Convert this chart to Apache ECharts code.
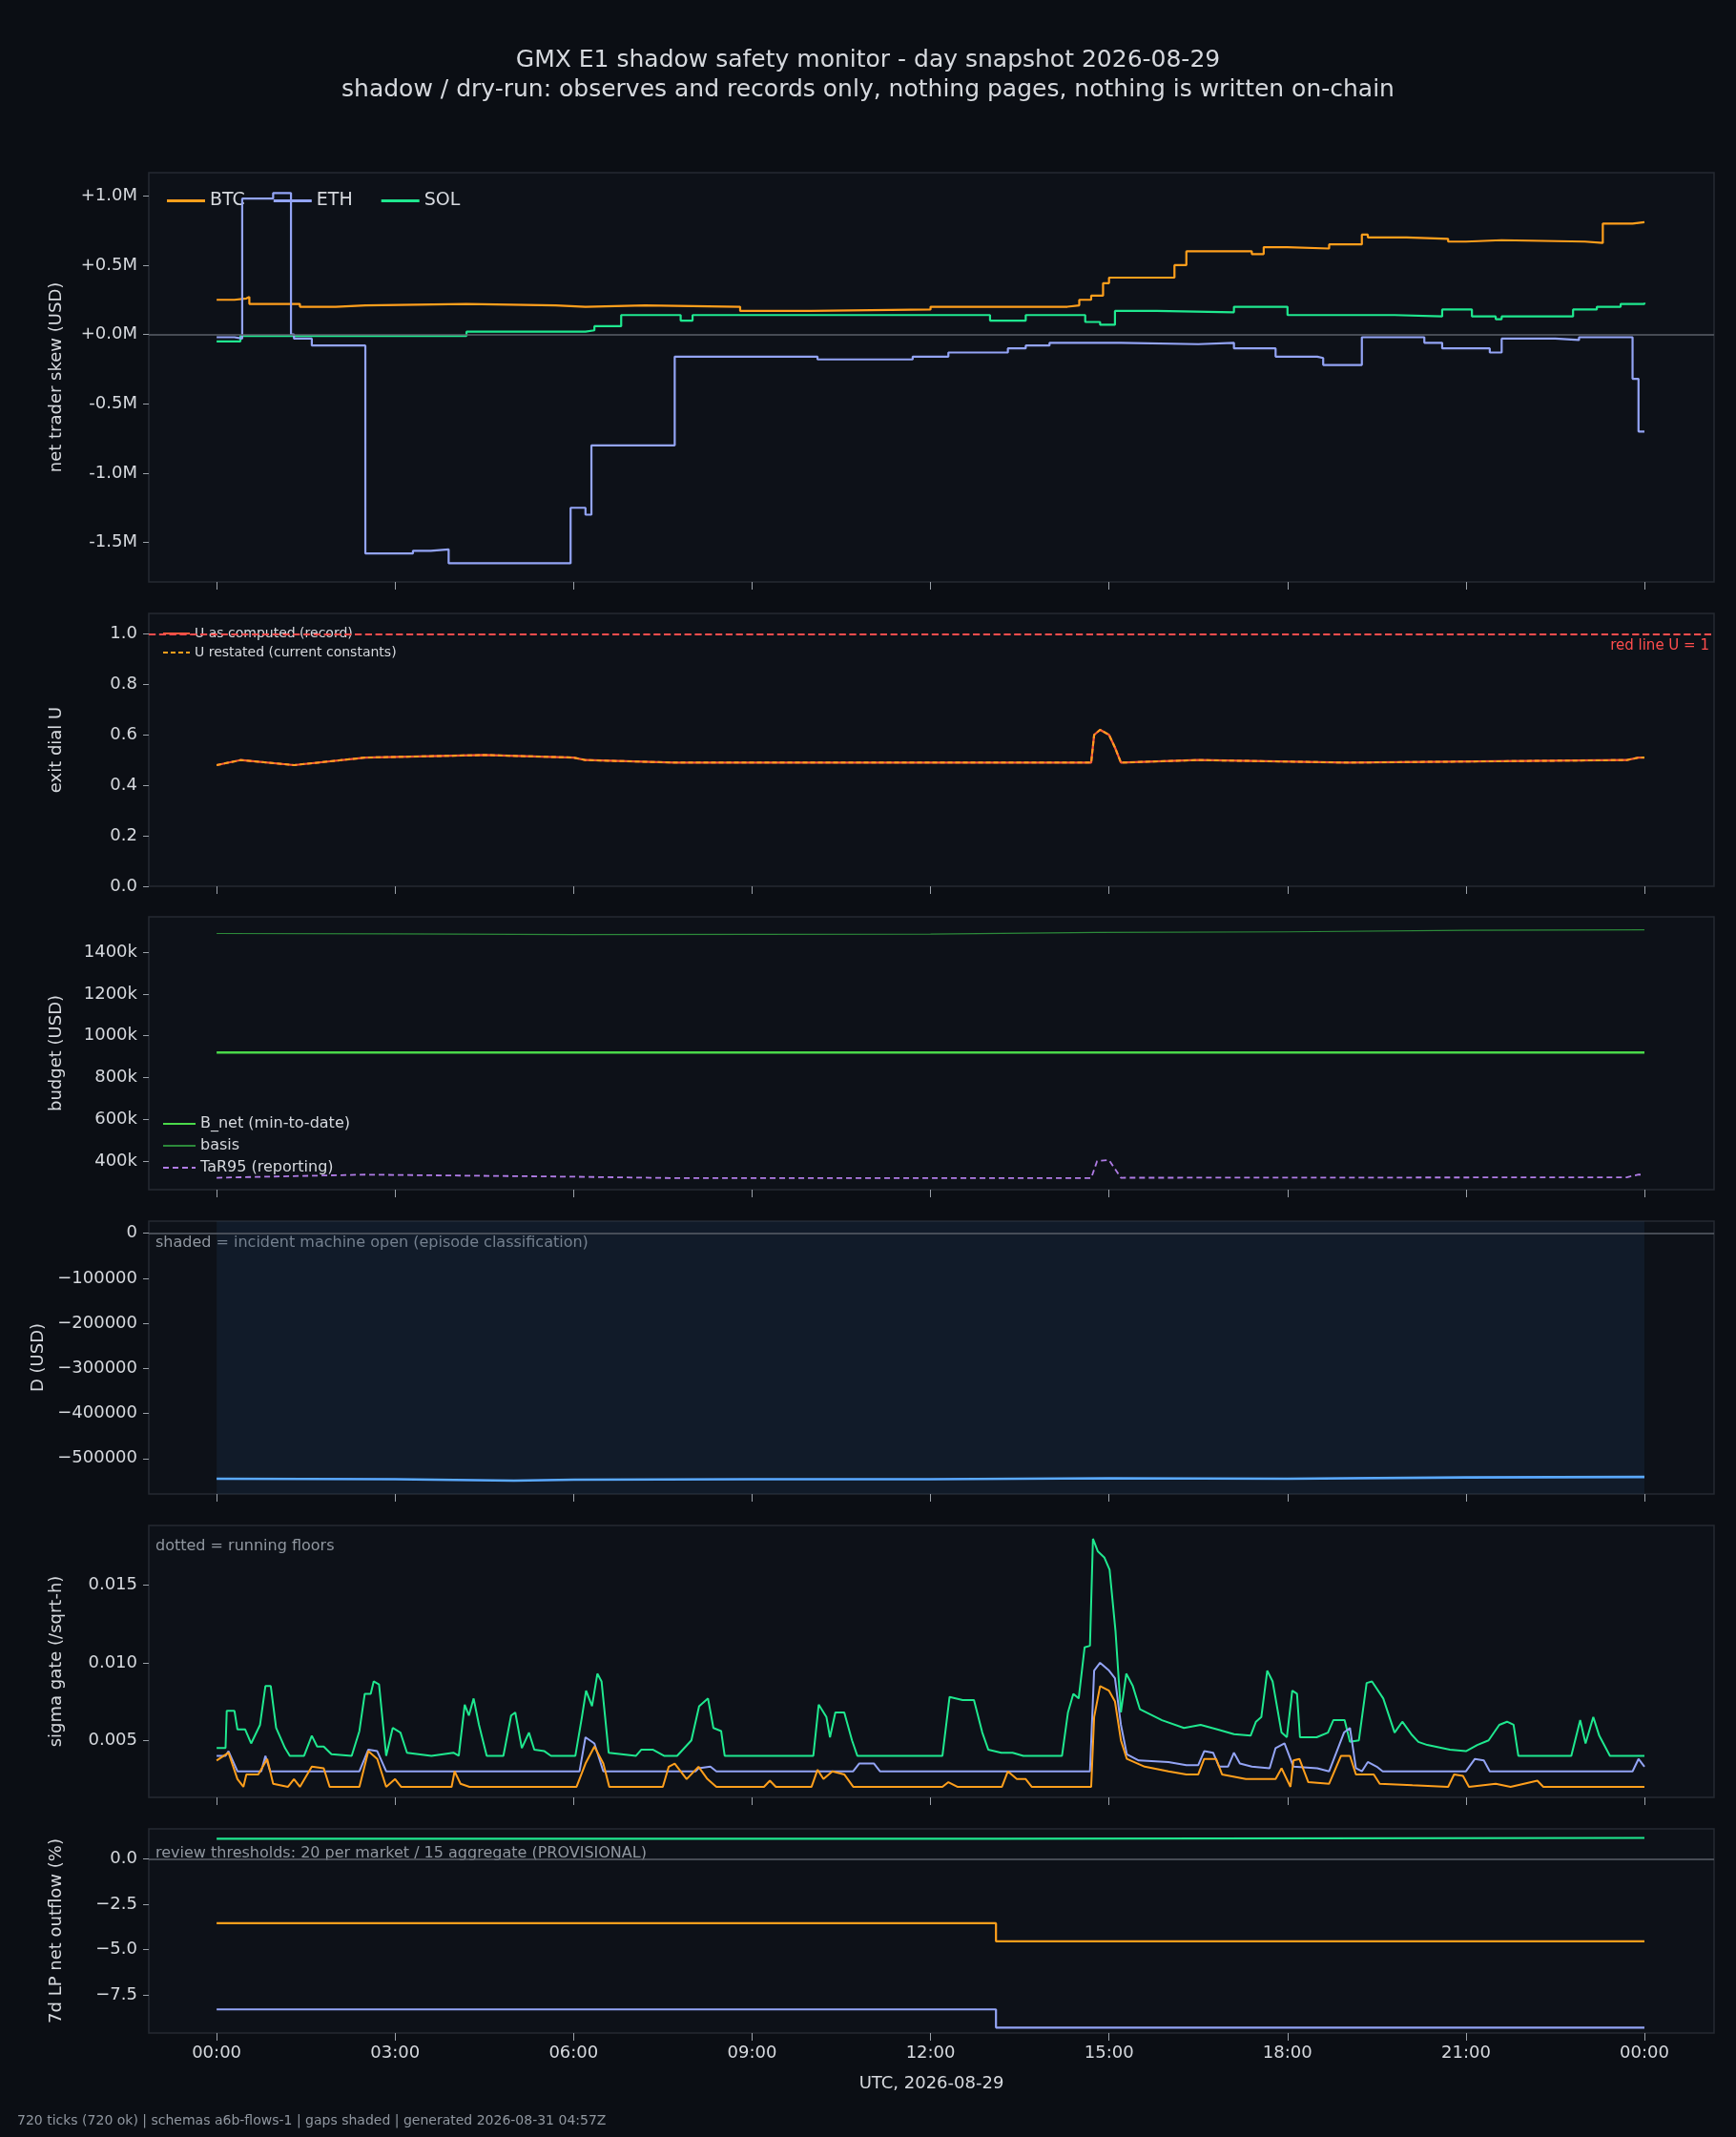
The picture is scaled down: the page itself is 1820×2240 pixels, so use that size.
<!DOCTYPE html>
<html><head><meta charset="utf-8">
<script src="https://cdn.jsdelivr.net/npm/echarts@6/dist/echarts.min.js"></script>
<style>html,body{margin:0;background:#0b0e14}#c{width:1820px;height:2240px}</style>
</head><body><div id="c"></div>
<script>
const hourTicks = [0, 3, 6, 9, 12, 15, 18, 21, 24];
const hourLabels = ['00:00', '03:00', '06:00', '09:00', '12:00', '15:00', '18:00', '21:00', '00:00'];

// panel 1: net trader skew, millions USD (step, value holds from hour)
const skewBTC = [[0,.25],[.3,.26],[.5,.27],[.55,.22],[1.4,.2],[2.0,.21],[2.5,.22],[4.2,.21],[5.7,.2],[6.2,.21],[7.2,.2],[8.8,.17],[10,.18],[12,.2],[14.3,.21],[14.5,.25],[14.7,.28],[14.9,.37],[15.0,.41],[16.1,.5],[16.3,.6],[17.4,.58],[17.6,.63],[18.0,.62],[18.7,.65],[19.25,.72],[19.35,.7],[20.0,.69],[20.7,.67],[21.0,.68],[21.6,.67],[23.0,.66],[23.3,.8],[23.8,.81],[24,.81]];
const skewETH = [[0,-.02],[.3,-.03],[.43,.98],[.9,.98],[.95,1.02],[1.25,0],[1.3,-.03],[1.6,-.08],[2.5,-1.58],[3.3,-1.56],[3.6,-1.55],[3.9,-1.65],[5.95,-1.25],[6.2,-1.3],[6.3,-.8],[7.7,-.16],[10.1,-.18],[11.7,-.16],[12.3,-.13],[13.3,-.1],[13.6,-.08],[14.0,-.06],[15.2,-.07],[16.5,-.06],[17.1,-.1],[17.8,-.16],[18.5,-.17],[18.6,-.22],[19.25,-.02],[20.3,-.06],[20.6,-.1],[21.4,-.13],[21.6,-.03],[22.5,-.04],[22.9,-.02],[23.8,-.32],[23.9,-.7],[24,-.7]];
const skewSOL = [[0,-.05],[.4,-.01],[4.2,.02],[6.2,.03],[6.35,.06],[6.8,.14],[7.8,.1],[8.0,.14],[13.0,.1],[13.6,.14],[14.6,.09],[14.85,.07],[15.1,.17],[15.8,.16],[17.1,.2],[18.0,.14],[19.8,.13],[20.6,.18],[21.1,.13],[21.5,.11],[21.6,.13],[22.8,.18],[23.2,.2],[23.6,.22],[24,.23]];
const skewTicks = [1.0, 0.5, 0.0, -0.5, -1.0, -1.5];

// panel 2: exit dial U
const dialU = [[0,.48],[.4,.5],[1.3,.48],[2.5,.51],[4.5,.52],[6.0,.51],[6.2,.5],[7.7,.49],[14.7,.49],[14.75,.6],[14.85,.62],[15.0,.6],[15.1,.55],[15.2,.49],[16.5,.5],[19.0,.49],[23.7,.5],[23.9,.51],[24,.51]];
const redLineU = 1;

// panel 3: budget, thousands USD
const budgetBnet = [[0,920],[24,920]];
const budgetBasis = [[0,1490],[3,1488],[6,1485],[9,1486],[12,1487],[14.8,1495],[18,1498],[21,1505],[24,1508]];
const budgetTaR95 = [[0,320],[2.5,335],[6.0,325],[7.8,318],[14.7,318],[14.8,400],[15.0,405],[15.2,320],[23.7,322],[23.9,335],[24,335]];
const budgetTicks = [1400, 1200, 1000, 800, 600, 400];

// panel 4: D (USD)
const dUSD = [[0,-545000],[3,-546000],[5,-549000],[6,-547000],[9,-546000],[12,-546000],[15,-544000],[18,-545000],[21,-542000],[24,-541000]];
const dTicks = [0, -100000, -200000, -300000, -400000, -500000];
const incidentOpen = [0, 24];

// panel 5: sigma gate (/sqrt-h)
const sigmaSOL = [[0,.0045],[.15,.0045],[.17,.0069],[.3,.0069],[.35,.0057],[.48,.0057],[.58,.0048],[.73,.006],[.82,.0085],[.91,.0085],[1.0,.0058],[1.15,.0045],[1.23,.004],[1.47,.004],[1.6,.0053],[1.69,.0046],[1.8,.0046],[1.93,.0041],[2.27,.004],[2.4,.0056],[2.49,.008],[2.59,.008],[2.64,.0088],[2.73,.0086],[2.85,.004],[2.96,.0058],[3.09,.0055],[3.2,.0042],[3.61,.004],[3.98,.0042],[4.07,.004],[4.17,.0073],[4.24,.0066],[4.32,.0077],[4.41,.006],[4.54,.004],[4.82,.004],[4.95,.0066],[5.02,.0068],[5.13,.0045],[5.25,.0055],[5.34,.0044],[5.51,.0043],[5.62,.004],[6.03,.004],[6.14,.0065],[6.21,.0082],[6.31,.0072],[6.4,.0093],[6.47,.0088],[6.59,.0042],[7.05,.004],[7.14,.0044],[7.33,.0044],[7.52,.004],[7.74,.004],[7.98,.005],[8.11,.0072],[8.26,.0077],[8.35,.0058],[8.48,.0056],[8.54,.004],[10.03,.004],[10.12,.0073],[10.25,.0065],[10.31,.0052],[10.4,.0068],[10.55,.0068],[10.68,.005],[10.77,.004],[12.2,.004],[12.32,.0078],[12.54,.0076],[12.73,.0076],[12.87,.0055],[12.97,.0044],[13.19,.0042],[13.38,.0042],[13.56,.004],[14.21,.004],[14.31,.0068],[14.4,.008],[14.49,.0077],[14.59,.011],[14.68,.0111],[14.73,.018],[14.81,.0172],[14.92,.0168],[15.01,.016],[15.11,.012],[15.2,.0068],[15.29,.0093],[15.4,.0085],[15.52,.007],[15.89,.0063],[16.26,.0058],[16.54,.006],[16.82,.0057],[17.1,.0054],[17.38,.0053],[17.47,.0062],[17.56,.0065],[17.66,.0095],[17.75,.0088],[17.9,.0055],[17.99,.0052],[18.08,.0082],[18.16,.008],[18.21,.0052],[18.49,.0052],[18.68,.0055],[18.77,.0063],[18.96,.0063],[19.05,.0049],[19.2,.005],[19.33,.0087],[19.42,.0088],[19.61,.0077],[19.8,.0055],[19.93,.0062],[20.08,.0054],[20.2,.0049],[20.35,.0047],[20.73,.0044],[21.0,.0043],[21.19,.0047],[21.38,.005],[21.56,.006],[21.69,.0062],[21.8,.006],[21.88,.004],[22.77,.004],[22.92,.0063],[23.01,.0048],[23.14,.0065],[23.24,.0053],[23.42,.004],[24,.004]];
const sigmaETH = [[0,.004],[.15,.004],[.2,.0043],[.35,.003],[.75,.003],[.82,.004],[.9,.003],[2.4,.003],[2.55,.0044],[2.7,.0043],[2.85,.003],[6.1,.003],[6.2,.0052],[6.35,.0048],[6.5,.003],[8.05,.003],[8.1,.0032],[8.3,.0033],[8.4,.003],[10.7,.003],[10.8,.0035],[11.05,.0035],[11.15,.003],[14.68,.003],[14.75,.0095],[14.85,.01],[15.0,.0095],[15.1,.009],[15.2,.006],[15.3,.0041],[15.5,.0037],[16.0,.0036],[16.3,.0034],[16.5,.0034],[16.6,.0043],[16.75,.0042],[16.85,.0033],[17.0,.0033],[17.1,.0042],[17.2,.0035],[17.4,.0033],[17.7,.0032],[17.8,.0045],[17.95,.0048],[18.1,.0033],[18.5,.0032],[18.7,.003],[18.95,.0055],[19.05,.0058],[19.15,.0032],[19.25,.003],[19.35,.0036],[19.5,.0033],[19.6,.003],[21.0,.003],[21.15,.0038],[21.3,.0037],[21.4,.003],[23.8,.003],[23.9,.0038],[24,.0033]];
const sigmaBTC = [[0,.0037],[.2,.0042],[.35,.0025],[.45,.002],[.5,.0028],[.7,.0028],[.85,.0038],[.95,.0022],[1.2,.002],[1.3,.0025],[1.4,.002],[1.6,.0033],[1.8,.0032],[1.9,.002],[2.4,.002],[2.55,.0043],[2.7,.0038],[2.85,.002],[3.0,.0025],[3.1,.002],[3.95,.002],[4.0,.003],[4.1,.0022],[4.25,.002],[6.05,.002],[6.2,.0035],[6.35,.0046],[6.5,.0035],[6.6,.002],[7.5,.002],[7.6,.0033],[7.7,.0035],[7.9,.0025],[8.1,.0033],[8.25,.0025],[8.4,.002],[9.2,.002],[9.3,.0024],[9.4,.002],[10.0,.002],[10.1,.0031],[10.2,.0025],[10.35,.003],[10.55,.0028],[10.7,.002],[12.2,.002],[12.3,.0023],[12.45,.002],[13.2,.002],[13.3,.003],[13.45,.0025],[13.6,.0025],[13.7,.002],[14.7,.002],[14.75,.0065],[14.85,.0085],[15.0,.0082],[15.1,.0075],[15.2,.005],[15.3,.0038],[15.6,.0033],[16.0,.003],[16.3,.0028],[16.5,.0028],[16.6,.0038],[16.8,.0038],[16.9,.0028],[17.3,.0025],[17.8,.0025],[17.9,.0032],[18.05,.002],[18.1,.0037],[18.2,.0038],[18.35,.0023],[18.7,.0022],[18.9,.004],[19.05,.004],[19.15,.0028],[19.45,.0028],[19.55,.0022],[20.1,.0021],[20.7,.002],[20.8,.0028],[20.95,.0027],[21.05,.002],[21.5,.0022],[21.75,.002],[22.2,.0024],[22.3,.002],[24,.002]];
const sigmaFloors = {SOL: 0.004, ETH: 0.003, BTC: 0.002};
const sigmaTicks = [0.015, 0.010, 0.005];

// panel 6: 7d LP net outflow (%)
const lpSOL = [[0,1.1],[13.1,1.15],[24,1.15]];
const lpBTC = [[0,-3.55],[13.1,-4.55],[24,-4.55]];
const lpETH = [[0,-8.3],[13.1,-9.3],[24,-9.3]];
const lpTicks = [0.0, -2.5, -5.0, -7.5];

const C_BTC = '#ff9f1c', C_ETH = '#93a4f5', C_SOL = '#1fe88f';
const TXT = '#d6d9de';
const FONT = 'DejaVu Sans';

const panels = [
  {top: 181, h: 429, min: -1.785, max: 1.167, name: 'net trader skew (USD)', ticks: skewTicks, fmt: v => (v >= 0 ? '+' : '') + v.toFixed(1) + 'M'},
  {top: 643, h: 286, min: 0, max: 1.081, name: 'exit dial U', ticks: [0, .2, .4, .6, .8, 1.0], fmt: v => v.toFixed(1)},
  {top: 961, h: 286, min: 263, max: 1570, name: 'budget (USD)', ticks: budgetTicks, fmt: v => v + 'k'},
  {top: 1280, h: 286, min: -578800, max: 27000, name: 'D (USD)', ticks: dTicks, fmt: v => v < 0 ? '\u2212' + (-v) : '' + v},
  {top: 1599, h: 285, min: 0.00132, max: 0.01886, name: 'sigma gate (/sqrt-h)', ticks: sigmaTicks, fmt: v => v.toFixed(3)},
  {top: 1917, h: 214, min: -9.6, max: 1.65, name: '7d LP net outflow (%)', ticks: lpTicks, fmt: v => v < 0 ? '\u2212' + (-v).toFixed(1) : v.toFixed(1)}
];

const grid = panels.map(p => ({left: 156, right: 23, top: p.top, height: p.h, show: true,
  backgroundColor: '#0d1118', borderColor: '#262a32', borderWidth: 1.5}));

const xAxis = panels.map((p, i) => ({type: 'value', gridIndex: i, min: -1.14, max: 25.17,
  name: i === 5 ? 'UTC, 2026-08-29' : '', nameLocation: 'middle', nameGap: 44,
  nameTextStyle: {color: TXT, fontSize: 18, fontFamily: FONT},
  axisLine: {show: false, onZero: false}, splitLine: {show: false},
  axisTick: {show: true, length: 8, lineStyle: {color: '#9aa0a8'}, customValues: hourTicks},
  axisLabel: {show: i === 5, color: TXT, fontSize: 18, fontFamily: FONT, margin: 12,
    customValues: hourTicks, formatter: v => hourLabels[hourTicks.indexOf(v)]}}));

const yAxis = panels.map((p, i) => ({type: 'value', gridIndex: i, min: p.min, max: p.max,
  name: p.name, nameLocation: 'middle', nameGap: i === 3 ? 100 : 88,
  nameTextStyle: {color: TXT, fontSize: 18, fontFamily: FONT},
  axisLine: {show: false, onZero: false}, splitLine: {show: false},
  axisTick: {show: true, length: 6, lineStyle: {color: '#9aa0a8'}, customValues: p.ticks},
  axisLabel: {color: TXT, fontSize: 18, fontFamily: FONT, margin: 12, customValues: p.ticks, formatter: p.fmt}}));

function line(name, data, i, color, extra) {
  return Object.assign({name: name, type: 'line', xAxisIndex: i, yAxisIndex: i, data: data,
    showSymbol: false, symbol: 'none', lineStyle: {color: color, width: 2.2}, itemStyle: {color: color}}, extra || {});
}
function zeroLine() {
  return {silent: true, symbol: 'none', label: {show: false}, lineStyle: {color: '#5a5f68', type: 'solid', width: 1.5}, data: [{yAxis: 0}]};
}
function floorLine(v, c) {
  return {silent: true, symbol: 'none', label: {show: false}, lineStyle: {color: c, type: 'dotted', width: 1.3}, data: [{yAxis: v}]};
}

const series = [
  line('BTC', skewBTC, 0, C_BTC, {step: 'end', markLine: zeroLine(), z: 3}),
  line('ETH', skewETH, 0, C_ETH, {step: 'end', z: 4}),
  line('SOL', skewSOL, 0, C_SOL, {step: 'end', z: 3}),

  line('U as computed (record)', dialU, 1, '#ff5a3c', {lineStyle: {color: '#ff5a3c', width: 2.2},
    markLine: {silent: true, symbol: 'none', lineStyle: {color: '#ff4d4d', type: 'dashed', width: 1.8},
      label: {show: true, position: 'insideEndBottom', formatter: 'red line U = 1', color: '#ff4d4d', fontSize: 15, fontFamily: FONT},
      data: [{yAxis: redLineU}]}}),
  line('U restated (current constants)', dialU, 1, C_BTC, {lineStyle: {color: C_BTC, width: 2, type: [5, 3]}}),

  line('B_net (min-to-date)', budgetBnet, 2, '#4ad94a', {lineStyle: {color: '#4ad94a', width: 2.6}}),
  line('basis', budgetBasis, 2, '#2c8a3a', {lineStyle: {color: '#2c8a3a', width: 1.2}}),
  line('TaR95 (reporting)', budgetTaR95, 2, '#b07ce6', {lineStyle: {color: '#b07ce6', width: 1.8, type: [6, 4]}}),

  line('D', dUSD, 3, '#5aa9ff', {lineStyle: {color: '#5aa9ff', width: 2.6}, markLine: zeroLine(),
    markArea: {silent: true, itemStyle: {color: 'rgba(30,60,90,0.25)'}, data: [[{xAxis: incidentOpen[0], yAxis: 27000}, {xAxis: incidentOpen[1], yAxis: -578800}]]}}),

  line('sigma SOL', sigmaSOL, 4, C_SOL, {lineStyle: {color: C_SOL, width: 2}, markLine: floorLine(sigmaFloors.SOL, C_SOL)}),
  line('sigma ETH', sigmaETH, 4, C_ETH, {lineStyle: {color: C_ETH, width: 2}, markLine: floorLine(sigmaFloors.ETH, C_ETH)}),
  line('sigma BTC', sigmaBTC, 4, C_BTC, {lineStyle: {color: C_BTC, width: 2}, markLine: floorLine(sigmaFloors.BTC, C_BTC)}),

  line('lp SOL', lpSOL, 5, C_SOL, {step: 'end', markLine: zeroLine()}),
  line('lp BTC', lpBTC, 5, C_BTC, {step: 'end'}),
  line('lp ETH', lpETH, 5, C_ETH, {step: 'end'})
];

function note(text, top) {
  return {type: 'text', left: 163, top: top, style: {text: text, fill: '#9097a0', fontSize: 16, fontFamily: FONT}};
}

const option = {
  backgroundColor: '#0b0e14',
  animation: false,
  title: {text: 'GMX E1 shadow safety monitor - day snapshot 2026-08-29\nshadow / dry-run: observes and records only, nothing pages, nothing is written on-chain',
    left: 'center', top: 43, textStyle: {color: TXT, fontSize: 25, fontWeight: 'normal', fontFamily: FONT, lineHeight: 31}},
  legend: [
    {data: ['BTC', 'ETH', 'SOL'], left: 170, top: 196, itemWidth: 40, itemHeight: 3, itemGap: 30, icon: 'rect',
      textStyle: {color: TXT, fontSize: 19, fontFamily: FONT}},
    {data: ['U as computed (record)', 'U restated (current constants)'], orient: 'vertical', left: 165, top: 652, itemWidth: 28, itemGap: 6,
      itemStyle: {opacity: 0}, textStyle: {color: TXT, fontSize: 14, fontFamily: FONT}},
    {data: ['B_net (min-to-date)', 'basis', 'TaR95 (reporting)'], orient: 'vertical', left: 165, top: 1165, itemWidth: 34, itemGap: 7,
      itemStyle: {opacity: 0}, textStyle: {color: TXT, fontSize: 16, fontFamily: FONT}}
  ],
  graphic: [
    note('shaded = incident machine open (episode classification)', 1295),
    note('dotted = running floors', 1613),
    note('review thresholds: 20 per market / 15 aggregate (PROVISIONAL)', 1935),
    {type: 'text', left: 18, top: 2216, style: {text: '720 ticks (720 ok) | schemas a6b-flows-1 | gaps shaded | generated 2026-08-31 04:57Z', fill: '#9097a0', fontSize: 14, fontFamily: FONT}}
  ],
  grid: grid, xAxis: xAxis, yAxis: yAxis, series: series
};

echarts.init(document.getElementById('c')).setOption(option);
</script></body></html>
